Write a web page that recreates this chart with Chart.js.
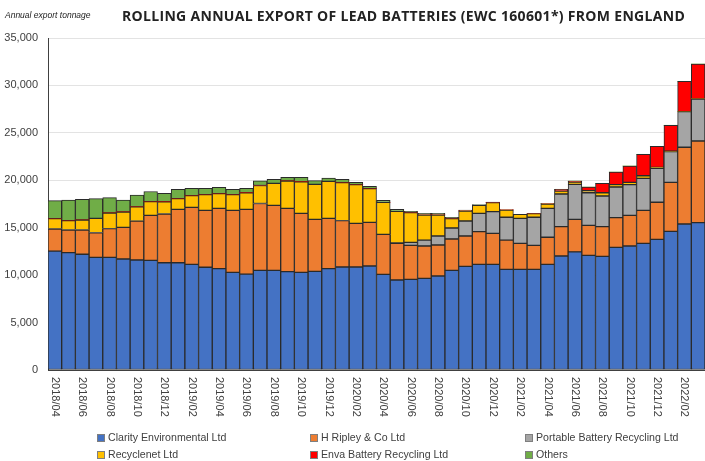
<!DOCTYPE html>
<html lang="en">
<head>
<meta charset="UTF-8">
<title>Rolling annual export of lead batteries</title>
<script src="https://cdn.jsdelivr.net/npm/chart.js"></script>
<style>
  html, body { margin: 0; padding: 0; background: #fff; }
  #wrap { width: 705px; height: 461px; position: relative; }
</style>
</head>
<body>
<div id="wrap"><canvas id="exportChart"></canvas></div>
<script>
const months = [
  '2018/04','2018/05','2018/06','2018/07','2018/08','2018/09','2018/10','2018/11','2018/12',
  '2019/01','2019/02','2019/03','2019/04','2019/05','2019/06','2019/07','2019/08','2019/09','2019/10','2019/11','2019/12',
  '2020/01','2020/02','2020/03','2020/04','2020/05','2020/06','2020/07','2020/08','2020/09','2020/10','2020/11','2020/12',
  '2021/01','2021/02','2021/03','2021/04','2021/05','2021/06','2021/07','2021/08','2021/09','2021/10','2021/11','2021/12',
  '2022/01','2022/02','2022/03'
];

// tonnes per company, rolling 12 months
const clarity = [12540,12370,12200,11880,11880,11700,11600,11550,11310,11310,11140,10830,10680,10300,10100,10510,10510,10370,10300,10400,10680,10860,10860,10960,10080,9490,9560,9660,9910,10510,10930,11140,11140,10610,10610,10610,11140,12020,12450,12090,11980,12930,13070,13350,13770,14620,15390,15530];
const ripley = [2320,2390,2560,2590,3020,3340,4100,4750,5140,5630,6010,6000,6360,6530,6840,7040,6850,6670,6220,5480,5310,4880,4600,4610,4220,3860,3580,3410,3270,3300,3200,3440,3270,3090,2740,2530,2850,3090,3430,3160,3130,3130,3230,3480,3910,5160,8090,8610];
const portable = [0,0,0,0,0,0,0,0,0,0,0,0,0,0,0,0,0,0,0,0,0,0,0,0,0,50,320,630,950,1160,1580,1940,2280,2400,2640,2960,3050,3440,3690,3440,3230,3230,3240,3370,3580,3240,3750,4430];
const recyclenet = [1090,980,1050,1520,1650,1620,1500,1450,1290,1120,1230,1650,1550,1650,1750,1900,2320,2880,3330,3690,3900,4010,4080,3550,3380,3330,3130,2640,2210,980,1050,840,950,770,420,380,460,320,250,210,350,250,240,280,100,50,0,0];
const enva = [0,0,0,0,0,0,0,0,0,0,0,0,0,0,0,0,0,0,0,0,0,0,0,0,0,0,0,0,0,0,0,0,0,0,0,0,50,180,100,390,990,1330,1730,2260,2220,2730,3200,3690];
const others = [1900,2180,2190,2070,1620,1260,1250,1070,890,990,770,670,670,570,460,490,420,390,460,390,350,350,240,240,210,210,140,180,180,150,110,70,50,30,0,0,0,0,0,0,0,0,0,0,0,0,0,0];

const seriesNames = ['Clarity Environmental Ltd','H Ripley & Co Ltd','Portable Battery Recycling Ltd','Recyclenet Ltd','Enva Battery Recycling Ltd','Others'];
const seriesColors = ['#4472C4','#ED7D31','#A5A5A5','#FFC000','#FF0000','#70AD47'];
const seriesData = [clarity, ripley, portable, recyclenet, enva, others];

const textColor = '#404040';

// title, rotated month labels and the 3-column legend
const extras = {
  id: 'extras',
  afterDraw(chart) {
    const ctx = chart.ctx;
    const xScale = chart.scales.x;
    ctx.save();

    ctx.fillStyle = '#222';
    ctx.textAlign = 'left';
    ctx.textBaseline = 'middle';
    ctx.font = 'italic 8.5px "Liberation Sans", Arial, sans-serif';
    ctx.fillText('Annual export tonnage', 5, 16);

    const title = 'ROLLING ANNUAL EXPORT OF LEAD BATTERIES (EWC 160601*) FROM ENGLAND';
    ctx.font = 'bold 14px "Open Sans", sans-serif';
    const natural = ctx.measureText(title).width;
    ctx.letterSpacing = ((563 - natural) / (title.length - 1)).toFixed(2) + 'px';
    ctx.fillText(title, 122, 17);
    ctx.letterSpacing = '0px';

    ctx.fillStyle = textColor;
    ctx.font = '11px "Liberation Sans", Arial, sans-serif';
    months.forEach((m, i) => {
      if (i % 2) return;
      ctx.save();
      ctx.translate(xScale.getPixelForValue(i), xScale.top + 7);
      ctx.rotate(Math.PI / 2);
      ctx.fillText(m, 0, 0);
      ctx.restore();
    });

    const cols = [97, 310, 525];
    const rows = [438, 455];
    ctx.font = '10.6px "Liberation Sans", Arial, sans-serif';
    chart.data.datasets.forEach((ds, i) => {
      const x = cols[i % 3];
      const y = rows[Math.floor(i / 3)];
      ctx.fillStyle = ds.backgroundColor;
      ctx.fillRect(x, y - 4, 8, 8);
      ctx.strokeStyle = '#7f7f7f';
      ctx.lineWidth = 1;
      ctx.strokeRect(x + 0.5, y - 3.5, 7, 7);
      ctx.fillStyle = textColor;
      ctx.fillText(ds.label, x + 11, y + 0.5);
    });

    ctx.restore();
  }
};

new Chart(document.getElementById('exportChart'), {
  type: 'bar',
  data: {
    labels: months,
    datasets: seriesData.map((d, i) => ({
      label: seriesNames[i],
      data: d,
      backgroundColor: seriesColors[i],
      borderColor: '#2a2a2a',
      borderWidth: c => (c.raw ? 1 : 0),
      borderSkipped: false,
      barPercentage: 1,
      categoryPercentage: 1
    }))
  },
  options: {
    responsive: true,
    maintainAspectRatio: false,
    animation: false,
    layout: { padding: { top: 38, left: 0, right: 0, bottom: 0 } },
    plugins: {
      legend: { display: false },
      tooltip: { enabled: false }
    },
    scales: {
      x: {
        stacked: true,
        ticks: { display: false },
        grid: { display: false },
        border: { display: true, color: '#404040' },
        afterFit: s => { s.height = 91; }
      },
      y: {
        stacked: true,
        min: 0,
        max: 35000,
        ticks: {
          stepSize: 5000,
          color: textColor,
          padding: 10,
          font: { size: 11, family: '"Liberation Sans", Arial, sans-serif' }
        },
        grid: { color: '#e3e3e3', drawTicks: false },
        border: { display: true, color: '#404040' },
        afterFit: s => { s.width = 48; }
      }
    }
  },
  plugins: [extras]
});
</script>
</body>
</html>
